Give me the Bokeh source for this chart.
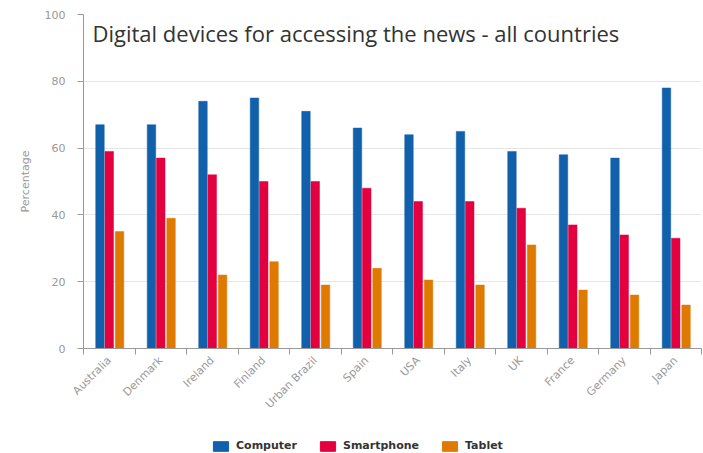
from bokeh.plotting import figure
from bokeh.models import (ColumnDataSource, FixedTicker, Legend, LegendItem, Label)
from bokeh.layouts import column
from bokeh.transform import dodge
from bokeh.embed import file_html
from bokeh.resources import INLINE
import math

countries = ["Australia", "Denmark", "Ireland", "Finland", "Urban Brazil", "Spain",
             "USA", "Italy", "UK", "France", "Germany", "Japan"]
computer = [67, 67, 74, 75, 71, 66, 64, 65, 59, 58, 57, 78]
smartphone = [59, 57, 52, 50, 50, 48, 44, 44, 42, 37, 34, 33]
tablet = [35, 39, 22, 26, 19, 24, 20.5, 19, 31, 17.5, 16, 13]
y_ticks = [0, 20, 40, 60, 80, 100]

series_names = ["Computer", "Smartphone", "Tablet"]
series_cols = ["computer", "smartphone", "tablet"]
colors = ["#1060ab", "#e4003f", "#df7a00"]

xpos = [i + 0.5 for i in range(len(countries))]
src = ColumnDataSource(dict(x=xpos, country=countries, computer=computer,
                            smartphone=smartphone, tablet=tablet))

p = figure(width=703, height=436, x_range=(0, len(countries)), y_range=(0, 100),
           output_backend="svg", toolbar_location=None,
           min_border_left=83, min_border_right=2, min_border_top=14, min_border_bottom=88)
p.outline_line_color = None
p.background_fill_color = "white"
p.border_fill_color = "white"

offsets = [-0.18, 0.0, 0.2]
for col, off, c in zip(series_cols, offsets, colors):
    p.vbar(x=dodge("x", off), top=col, width=0.165, source=src,
           fill_color=c, line_color=c, line_width=0.5)

# x axis: labels at centers, tick marks at boundaries (minor ticks)
p.xaxis.ticker = FixedTicker(ticks=xpos, minor_ticks=list(range(len(countries) + 1)))
p.xaxis.major_label_overrides = {x: c for x, c in zip(xpos, countries)}
p.xaxis.major_tick_in = 0
p.xaxis.major_tick_out = 0
p.xaxis.minor_tick_in = 0
p.xaxis.minor_tick_out = 6
p.xaxis.minor_tick_line_color = "#999999"
p.xaxis.axis_line_color = "#999999"
p.xaxis.major_label_orientation = math.pi / 4
p.xaxis.major_label_text_color = "#999999"
p.xaxis.major_label_text_font = "DejaVu Sans"
p.xaxis.major_label_text_font_size = "11px"
p.xaxis.major_label_standoff = 4

p.yaxis.ticker = FixedTicker(ticks=y_ticks)
p.yaxis.minor_tick_line_color = None
p.yaxis.major_tick_in = 0
p.yaxis.major_tick_out = 6
p.yaxis.major_tick_line_color = "#999999"
p.yaxis.axis_line_color = "#999999"
p.yaxis.major_label_text_color = "#999999"
p.yaxis.major_label_text_font = "DejaVu Sans"
p.yaxis.major_label_text_font_size = "11px"
p.yaxis.major_label_standoff = 12
p.yaxis.axis_label = "Percentage"
p.yaxis.axis_label_text_color = "#999999"
p.yaxis.axis_label_text_font = "DejaVu Sans"
p.yaxis.axis_label_text_font_size = "11px"
p.yaxis.axis_label_text_font_style = "normal"
p.yaxis.axis_label_standoff = 10

p.xgrid.grid_line_color = None
p.ygrid.ticker = FixedTicker(ticks=y_ticks)
p.ygrid.grid_line_color = "#e6e6e6"

title = Label(x=0.175, y=94.6, text="Digital devices for accessing the news - all countries",
              text_font="Open Sans", text_font_size="22px", text_color="#333333",
              text_baseline="middle", text_align="left")
p.add_layout(title)

# legend strip (its own small figure; glyph renderers lie outside its visible range)
lg = figure(width=703, height=17, x_range=(0, len(countries)), y_range=(200, 201),
            output_backend="svg", toolbar_location=None,
            min_border_left=0, min_border_right=0, min_border_top=0, min_border_bottom=0)
lg.axis.visible = False
lg.grid.visible = False
lg.outline_line_color = None
lg.border_fill_color = "white"
lg_renderers = [lg.vbar(x="x", top=col, width=0.165, source=src, fill_color=c, line_color=c)
                for col, c in zip(series_cols, colors)]
legend = Legend(items=[LegendItem(label=n, renderers=[r]) for n, r in zip(series_names, lg_renderers)],
                orientation="horizontal", location=(128, 1),
                glyph_width=19, glyph_height=12, label_height=12, label_standoff=6, spacing=21,
                label_text_font="DejaVu Sans", label_text_font_size="11px",
                label_text_font_style="bold", label_text_color="#333333",
                border_line_color=None, background_fill_alpha=0,
                padding=0, margin=0)
lg.add_layout(legend)

open("out.html", "w").write(file_html(column(p, lg, spacing=0), INLINE))
